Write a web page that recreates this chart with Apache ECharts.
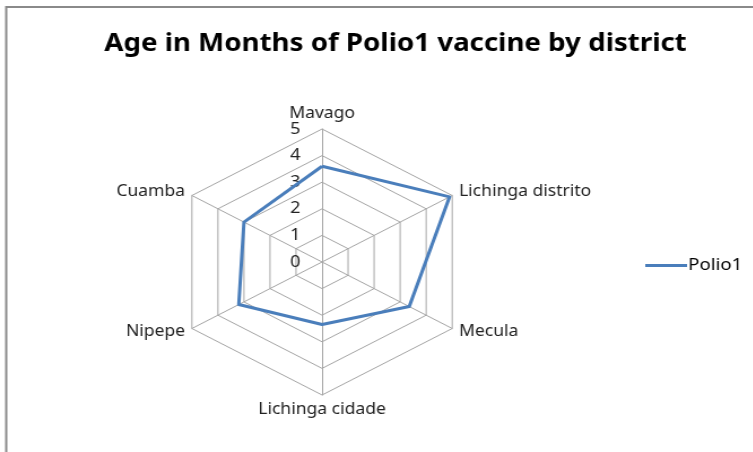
<!DOCTYPE html>
<html>
<head>
<meta charset="utf-8">
<script src="https://cdn.jsdelivr.net/npm/echarts@6/dist/echarts.min.js"></script>
<style>
  html, body { margin: 0; padding: 0; background: #fff; overflow: hidden; }
  /* the reference picture is stretched sideways, so the chart is too */
  #main { width: 666px; height: 452px; transform: scaleX(1.13); transform-origin: 0 0; }
</style>
</head>
<body>
<div id="main"></div>
<script>
var districts = ["Mavago", "Lichinga distrito", "Mecula", "Lichinga cidade", "Nipepe", "Cuamba"];
var polio1 = [3.6, 4.9, 3.35, 2.35, 3.2, 3.0];
var tickLabels = ["0", "1", "2", "3", "4", "5"];
var axisMax = 5;

var cx = 285, cy = 262, rad = 133;
var font = "'Noto Sans', 'Open Sans', sans-serif";

// echarts radar runs counter-clockwise, the reference runs clockwise
var order = [0];
for (var k = districts.length - 1; k > 0; k--) {
	order.push(k);
}
var indicators = [];
var values = [];
for (var i = 0; i < order.length; i++) {
	indicators.push({ name: districts[order[i]], min: 0, max: axisMax });
	values.push(polio1[order[i]]);
}

var myChart = echarts.init(document.getElementById("main"));
myChart.setOption({
	animation: false,
	backgroundColor: "#fff",
	title: {
		text: "Age in Months of Polio1 vaccine by district",
		left: 345,
		textAlign: "center",
		top: 27,
		textStyle: { fontFamily: font, fontSize: 24.5, fontWeight: "bold", color: "#000" }
	},
	graphic: [{
		type: "rect",
		shape: { x: 5.5, y: 7, width: 900, height: 600 },
		style: { fill: null, stroke: "#8a8a8a", lineWidth: 2 },
		silent: true
	}],
	legend: {
		left: 566,
		top: 252,
		icon: "rect",
		itemWidth: 37,
		itemHeight: 3,
		itemGap: 0,
		data: ["Polio1"],
		textStyle: { fontFamily: font, fontSize: 16.5, color: "#000", padding: [0, 0, 0, -4] }
	},
	radar: {
		center: [cx, cy],
		radius: rad,
		startAngle: 90,
		shape: "polygon",
		splitNumber: 5,
		indicator: indicators,
		axisName: { color: "#222", fontFamily: font, fontSize: 15.5 },
		nameGap: 7,
		splitArea: { show: false },
		splitLine: { lineStyle: { color: "#a6a6a6", width: 1 } },
		axisLine: { lineStyle: { color: "#a6a6a6", width: 1 } }
	},
	polar: { center: [cx, cy], radius: rad },
	angleAxis: { show: false, startAngle: 90, min: 0, max: 360 },
	radiusAxis: {
		min: 0,
		max: axisMax,
		interval: 1,
		axisLine: { show: false },
		axisTick: { show: false },
		splitLine: { show: false },
		axisLabel: {
			margin: 19,
			fontFamily: font,
			fontSize: 16,
			color: "#222",
			formatter: function (v) { return tickLabels[Math.round(v)]; }
		}
	},
	series: [{
		name: "Polio1",
		type: "radar",
		symbol: "none",
		lineStyle: { color: "#4a7ebb", width: 3 },
		itemStyle: { color: "#4a7ebb" },
		data: [{ value: values, name: "Polio1" }]
	}]
});
</script>
</body>
</html>
